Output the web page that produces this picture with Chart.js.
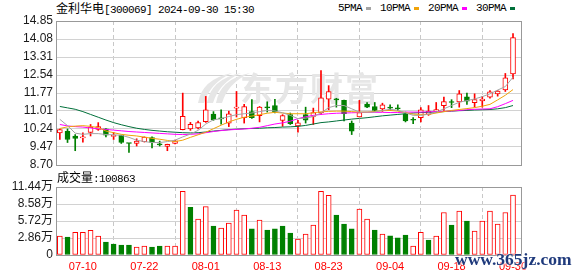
<!DOCTYPE html>
<html>
<head>
<meta charset="utf-8">
<script src="https://cdn.jsdelivr.net/npm/chart.js@4.4.0/dist/chart.umd.min.js"></script>
<style>
  html, body { margin: 0; padding: 0; background: #fff; }
  #wrap { position: relative; width: 578px; height: 276px; overflow: hidden; }
  canvas { position: absolute; left: 0; }
  #priceChart { top: 0; }
  #volChart { top: 168px; }
  .mono { font-family: 'Liberation Mono', monospace; font-size: 11px; letter-spacing: -0.6px; }
  .cn { font-family: 'Noto Sans CJK SC', sans-serif; font-size: 12px; letter-spacing: 0; }
  #title { position: absolute; left: 56px; top: 0; line-height: 16px; color: #000; white-space: nowrap; }
  #volTitle { position: absolute; left: 57px; top: 169px; line-height: 16px; color: #000; white-space: nowrap; }
  #legend { position: absolute; left: 338px; top: 0; height: 16px; display: flex; align-items: center; color: #000; }
  #legend .sq { display: inline-block; width: 5px; height: 3px; margin: 0 9px 0 4px; }
  #site { position: absolute; left: 455px; top: 249px; font: bold 17.5px 'Liberation Serif', serif; color: #1f3a7c;
          text-shadow: 0 0 2px #fff, 0 0 2px #fff; white-space: nowrap; }
</style>
</head>
<body>
<div id="wrap">
  <div id="title"><span class="cn">金利华电</span><span class="mono">[300069] 2024-09-30 15:30</span></div>
  <div id="legend"></div>
  <canvas id="priceChart" width="578" height="168"></canvas>
  <canvas id="volChart" width="578" height="108"></canvas>
  <div id="volTitle"><span class="cn">成交量</span><span class="mono">:100863</span></div>
  <div id="site">www.365jz.com</div>
</div>
<script>
// trading days shown (2024)
const dates = ['07-05','07-08','07-09','07-10','07-11','07-12','07-15','07-16','07-17','07-18','07-19',
  '07-22','07-23','07-24','07-25','07-26','07-29','07-30','07-31','08-01','08-02','08-05','08-06','08-07',
  '08-08','08-09','08-12','08-13','08-14','08-15','08-16','08-19','08-20','08-21','08-22','08-23','08-26',
  '08-27','08-28','08-29','08-30','09-02','09-03','09-04','09-05','09-06','09-09','09-10','09-11','09-12',
  '09-13','09-18','09-19','09-20','09-23','09-24','09-25','09-26','09-27','09-30'];
const tickDates = ['07-10','07-22','08-01','08-13','08-23','09-04','09-18','09-30'];

// daily prices
const opens  = [10.07,10.14,9.94,9.86,10.09,10.22,10.24,9.92,9.97,9.63, 9.62,9.70,9.87,9.60,9.49,9.62,10.21,10.24,10.28,10.55,
  10.88,10.69,10.49,11.13,10.72,10.98,10.81,11.18,11.24,10.60, 10.85,10.37,10.85,10.78,10.92,11.51,11.50,11.46,10.49,10.75,
  11.29,11.19,11.09,11.15,11.13,10.89,10.63,10.72,10.86,10.99, 11.23,11.39,11.39,11.61,11.36,11.44,11.60,11.74,11.91,12.59];
const highs  = [10.23,10.24,10.00,10.07,10.43,10.51,10.26,10.09,9.98,9.63, 9.82,9.90,9.90,9.72,9.59,9.76,11.77,10.52,10.58,11.63,
  10.98,11.06,11.00,11.84,11.29,11.49,11.20,11.40,11.50,10.85, 10.92,10.61,11.17,11.13,12.73,12.09,11.55,11.47,10.58,11.46,
  11.37,11.37,11.34,11.27,11.27,10.96,10.72,11.15,11.24,11.37, 11.60,11.49,11.88,11.77,11.74,11.63,11.88,11.88,12.61,14.31];
const lows   = [9.79,9.66,9.31,9.67,9.94,10.18,9.90,9.79,9.62,9.24, 9.51,9.68,9.43,9.51,9.31,9.60,10.20,10.18,10.24,10.52,
  10.61,10.44,10.34,10.75,10.49,10.69,10.54,10.96,10.92,10.35, 10.43,10.10,10.49,10.43,10.86,11.06,11.17,10.58,10.00,10.75,
  11.15,10.99,10.99,11.03,11.03,10.54,10.47,10.54,10.82,10.96, 11.03,11.15,11.17,11.29,11.17,11.17,11.55,11.64,11.84,12.38];
const closes = [10.21,9.79,9.83,9.88,10.32,10.34,9.97,9.93,9.66,9.62, 9.72,9.89,9.66,9.56,9.58,9.73,10.78,10.44,10.51,11.06,
  10.64,10.67,10.89,11.15,11.20,10.72,11.17,11.14,10.98,10.81, 10.46,10.50,10.61,10.94,11.57,11.84,11.48,10.89,10.15,10.94,
  11.17,11.03,11.27,11.13,11.10,10.58,10.61,11.06,11.00,11.07, 11.41,11.37,11.74,11.43,11.49,11.52,11.82,11.86,12.42,14.14];

// moving averages
const ma5  = [10.65,10.38,10.06,10.01,10.04,10.04,10.00,9.99,9.97,9.88, 9.76,9.70,9.66,9.66,9.70,9.76,9.90,10.02,10.18,10.45,
  10.63,10.68,10.77,10.85,10.89,10.92,10.98,11.03,11.01,10.93, 10.82,10.68,10.70,10.77,10.92,11.15,11.24,11.24,11.10,10.96,
  10.96,10.96,11.03,11.08,11.04,10.93,10.82,10.82,10.87,10.96, 11.10,11.24,11.38,11.45,11.52,11.62,11.74,11.90,12.05,12.45];
const ma10 = [10.26,10.33,10.36,10.38,10.35,10.30,10.15,10.08,10.01,9.97, 9.94,9.89,9.84,9.80,9.75,9.70,9.76,9.88,9.99,10.10,
  10.25,10.40,10.54,10.65,10.74,10.79,10.85,10.91,10.95,10.92, 10.89,10.89,10.89,10.93,10.97,10.99,11.00,11.00,10.98,10.96,
  10.96,10.99,11.02,11.03,11.00,10.94,10.87,10.86,10.86,10.92, 10.98,11.03,11.07,11.11,11.15,11.21,11.29,11.48,11.68,11.92];
const ma20 = [10.43,10.37,10.34,10.32,10.28,10.25,10.22,10.19,10.16,10.13, 10.11,10.09,10.07,10.05,10.03,10.01,10.00,10.01,10.03,10.08,
  10.13,10.17,10.20,10.22,10.24,10.27,10.31,10.38,10.45,10.50, 10.57,10.68,10.76,10.82,10.86,10.89,10.91,10.92,10.93,10.94,
  10.95,10.95,10.95,10.94,10.94,10.96,10.96,10.96,10.97,10.98, 10.99,11.01,11.03,11.06,11.08,11.09,11.10,11.19,11.32,11.46];
const ma30 = [11.20,11.14,11.08,10.98,10.86,10.74,10.62,10.51,10.42,10.34, 10.27,10.22,10.18,10.15,10.12,10.10,10.08,10.07,10.08,10.11,
  10.15,10.18,10.21,10.23,10.25,10.26,10.27,10.29,10.30,10.32, 10.33,10.35,10.39,10.45,10.51,10.54,10.58,10.62,10.66,10.69,
  10.72,10.76,10.80,10.83,10.86,10.89,10.92,10.94,10.95,10.96, 10.98,11.00,11.02,11.03,11.05,11.06,11.07,11.10,11.15,11.24];

// volume in 万 shares
const volumes = [3.18,3.02,3.80,3.80,4.13,3.18,2.18,1.84,1.68,1.68, 1.34,1.51,1.34,1.51,1.51,1.51,10.72,8.04,6.03,8.15,
  4.86,4.52,5.36,7.54,6.70,4.41,5.86,4.19,4.41,4.86, 3.69,2.68,3.52,5.03,10.72,10.05,6.70,5.19,4.41,7.71,
  6.03,4.19,3.52,3.24,2.90,3.35,1.51,3.80,2.51,3.18, 7.15,5.03,7.37,5.69,4.02,5.69,7.37,5.19,7.15,10.09];

const priceTicks = [8.70, 9.47, 10.24, 11.01, 11.77, 12.54, 13.31, 14.08, 14.85];
const volTicks = [0, 2.86, 5.72, 8.58, 11.44];
const maNames = ['5PMA', '10PMA', '20PMA', '30PMA'];
const maColors = ['#a4a4a4', '#f0a30a', '#ff00ff', '#00703a'];

const red = '#ff0000', green = '#008000';
const candleUp = closes.map((c, i) => c >= opens[i]);
const volUp = closes.map((c, i) => i === 0 ? c >= opens[0] : c >= closes[i - 1]);
const xy = arr => arr.map((v, i) => ({ x: i, y: v }));

// legend
const legend = document.getElementById('legend');
maNames.forEach((n, k) => {
  legend.insertAdjacentHTML('beforeend',
    '<span class="mono">' + n + '</span><span class="sq" style="background:' + maColors[k] + '"></span>');
});

Chart.defaults.animation = false;
Chart.defaults.events = [];
Chart.defaults.plugins.legend.display = false;
Chart.defaults.plugins.tooltip.enabled = false;

const axisFont = { family: "'Liberation Sans', 'Noto Sans CJK SC', Arial", size: 12 };

function dateAxis(showLabels) {
  return {
    type: 'linear', min: -0.5, max: 60.17, offset: false,
    afterBuildTicks: s => { s.ticks = tickDates.map(d => ({ value: dates.indexOf(d) })); },
    ticks: {
      display: showLabels, color: red, autoSkip: false, maxRotation: 0, padding: 5,
      font: { family: "'Liberation Sans', Arial", size: 11 },
      callback: v => dates[v]
    },
    grid: { color: '#c8c8c8', drawTicks: false },
    border: { display: false, dash: [4, 3] },
    afterFit: s => { s.height = showLabels ? 21 : 0; s.paddingLeft = 0; s.paddingRight = 0; }
  };
}

function valueAxis(min, max, ticks, fmt) {
  return {
    min, max,
    afterBuildTicks: s => { s.ticks = ticks.map(v => ({ value: v })); },
    ticks: { color: '#1a1a1a', font: axisFont, padding: 3, autoSkip: false, callback: fmt },
    grid: { color: '#d2d2d2', drawTicks: false },
    border: { display: false },
    afterFit: s => { s.width = 56; s.paddingTop = 0; s.paddingBottom = 0; }
  };
}

const frame = {
  id: 'frame',
  afterDraw(chart) {
    const { ctx, chartArea: a } = chart;
    ctx.save();
    ctx.strokeStyle = '#999';
    ctx.lineWidth = 1;
    ctx.strokeRect(Math.round(a.left) + 0.5, Math.round(a.top) + 0.5,
      Math.round(a.right - a.left) - 1, Math.round(a.bottom - a.top));
    ctx.restore();
  }
};

// faint site logo behind the candles
const watermark = {
  id: 'watermark',
  beforeDatasetsDraw(chart) {
    const { ctx, chartArea: a } = chart;
    const ox = a.left + 142, oy = a.top + 52;
    ctx.save();
    ctx.fillStyle = '#e6e6e6';
    for (let k = 0; k < 3; k++) {
      const d = k * 9;
      ctx.beginPath();
      ctx.moveTo(ox + d, oy + 30);
      ctx.quadraticCurveTo(ox + d + 4, oy + 6, ox + d + 34, oy);
      ctx.quadraticCurveTo(ox + d + 12, oy + 10, ox + d + 6, oy + 30);
      ctx.closePath();
      ctx.fill();
    }
    ctx.font = "bold 33px 'Noto Sans CJK SC'";
    ctx.letterSpacing = '2px';
    ctx.textBaseline = 'middle';
    ctx.fillText('东方财富', a.left + 184, a.top + 67);
    ctx.restore();
  }
};

new Chart(document.getElementById('priceChart'), {
  type: 'bar',
  data: {
    datasets: [
      ...[ma5, ma10, ma20, ma30].map((m, k) => ({
        type: 'line', label: maNames[k], data: xy(m), borderColor: maColors[k],
        borderWidth: 1, pointRadius: 0, tension: 0, order: 0
      })),
      {
        label: 'body', data: opens.map((o, i) => ({ x: i, y: [o, closes[i]] })),
        backgroundColor: candleUp.map(u => u ? '#ffffff' : green),
        borderColor: candleUp.map(u => u ? red : green),
        borderWidth: 1, borderSkipped: false, barThickness: 5, minBarLength: 1, grouped: false, order: 1
      },
      {
        label: 'wick', data: lows.map((l, i) => ({ x: i, y: [l, highs[i]] })),
        backgroundColor: candleUp.map(u => u ? red : green),
        barThickness: 1, grouped: false, order: 2
      }
    ]
  },
  options: {
    responsive: false,
    layout: { padding: { left: 0, top: 21, right: 56, bottom: 3 } },
    scales: {
      x: dateAxis(false),
      y: valueAxis(8.70, 14.85, priceTicks, v => v.toFixed(2))
    }
  },
  plugins: [watermark, frame]
});

new Chart(document.getElementById('volChart'), {
  type: 'bar',
  data: {
    datasets: [{
      label: '成交量', data: xy(volumes),
      backgroundColor: volUp.map(u => u ? '#ffffff' : green),
      borderColor: volUp.map(u => u ? red : green),
      borderWidth: 1, borderSkipped: false, barThickness: 5, grouped: false
    }]
  },
  options: {
    responsive: false,
    layout: { padding: { left: 0, top: 19, right: 56, bottom: 0 } },
    scales: {
      x: dateAxis(true),
      y: valueAxis(0, 11.44, volTicks, v => v === 0 ? '0' : v.toFixed(2) + '万')
    }
  },
  plugins: [frame]
});
</script>
</body>
</html>
